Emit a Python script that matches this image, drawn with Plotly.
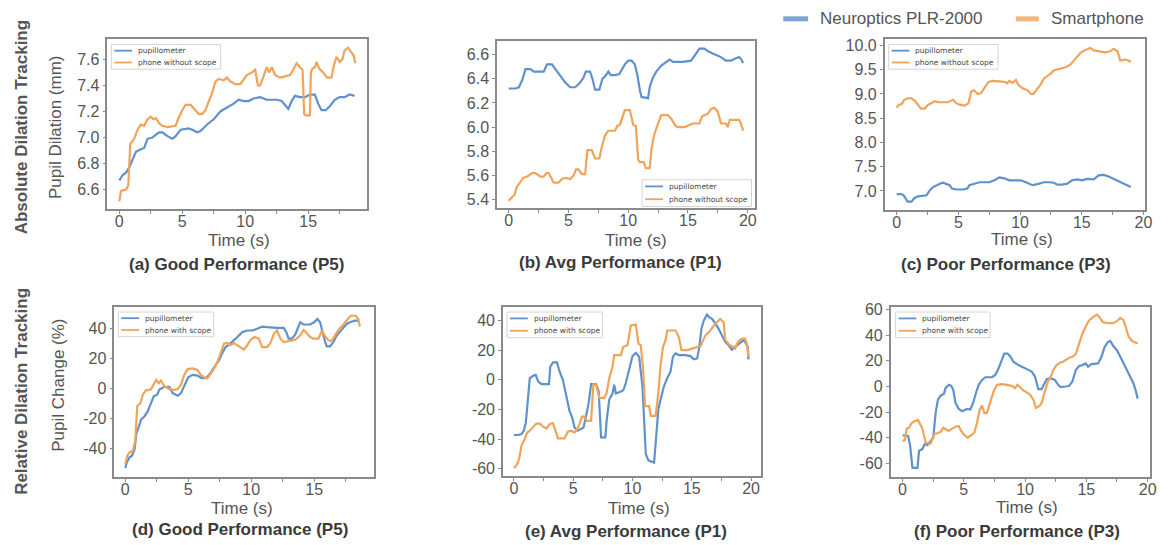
import plotly.graph_objects as go

W, H = 1169, 545

# ---------------- data ----------------
# (a) Good Performance (P5) - absolute
a_pupil_t = [0, 0.26, 0.53, 0.79, 1.05, 1.32, 1.71, 1.97, 2.24, 2.63, 2.89, 3.16, 3.42, 3.82, 4.21, 4.47, 4.87,
             5.53, 5.79, 6.18, 6.45, 6.97, 7.5, 8.03, 8.55, 9.08, 9.47, 9.87, 10.26, 10.66, 11.18, 11.71, 12.5,
             12.89, 13.16, 13.42, 13.68, 13.95, 14.34, 14.74, 15.13, 15.53, 15.79, 16.05, 16.39, 16.71, 17.11,
             17.5, 17.89, 18.29, 18.68]
a_pupil_v = [6.67, 6.71, 6.73, 6.77, 6.83, 6.89, 6.91, 6.92, 6.99, 7.0, 7.02, 7.04, 7.04, 7.01, 6.99, 7.01, 7.06,
             7.07, 7.06, 7.04, 7.05, 7.1, 7.14, 7.2, 7.23, 7.26, 7.29, 7.28, 7.28, 7.3, 7.31, 7.29, 7.29,
             7.28, 7.25, 7.22, 7.28, 7.32, 7.31, 7.31, 7.33, 7.33, 7.26, 7.21, 7.21, 7.24, 7.29,
             7.31, 7.31, 7.33, 7.32]
a_phone_t = [0, 0.13, 0.53, 0.71, 0.87, 1.18, 1.45, 1.71, 1.97, 2.24, 2.5, 2.71, 2.89, 3.16, 3.42, 3.82, 4.47,
             4.66, 5.0, 5.26, 5.66, 5.92, 6.32, 6.58, 6.84, 7.11, 7.37, 7.63, 7.89, 8.29, 8.55, 8.82, 9.21, 9.61,
             9.87, 10.13, 10.53, 10.79, 11.0, 11.18, 11.45, 11.71, 11.89, 12.11, 12.37, 12.76, 13.16, 13.55,
             13.82, 14.08, 14.34, 14.55, 14.68, 14.82, 15.13, 15.21, 15.34, 15.53, 15.66, 15.87, 16.18, 16.5,
             16.84, 17.03, 17.24, 17.5, 17.71, 17.89, 18.16, 18.42, 18.61, 18.74]
a_phone_v = [6.51, 6.59, 6.60, 6.63, 6.95, 6.99, 7.06, 7.10, 7.09, 7.14, 7.16, 7.14, 7.15, 7.11, 7.09, 7.08, 7.09,
             7.14, 7.21, 7.25, 7.25, 7.22, 7.18, 7.18, 7.21, 7.28, 7.34, 7.43, 7.45, 7.44, 7.46, 7.43, 7.41, 7.41,
             7.45, 7.48, 7.50, 7.52, 7.40, 7.40, 7.47, 7.54, 7.50, 7.54, 7.48, 7.46, 7.47, 7.48,
             7.52, 7.57, 7.54, 7.52, 7.18, 7.17, 7.17, 7.50, 7.53, 7.54, 7.58, 7.53, 7.50, 7.46,
             7.46, 7.55, 7.62, 7.58, 7.60, 7.67, 7.69, 7.66, 7.63, 7.57]

# (b) Avg Performance (P1) - absolute
b_pupil_t = [0, 0.58, 0.86, 1.14, 1.41, 1.83, 2.11, 2.94, 3.21, 3.63, 3.91, 4.32, 4.74, 5.15, 5.57, 5.98, 6.26,
             6.45, 6.81, 7.01, 7.23, 7.59, 7.84, 8.06, 8.34, 8.53, 8.89, 9.25, 9.45, 9.72, 10.0, 10.28, 10.55,
             10.75, 10.97, 11.11, 11.66, 11.8, 12.02, 12.35, 12.77, 13.19, 13.46, 13.74, 14.57, 15.26, 15.54,
             15.96, 16.37, 16.65, 17.06, 17.48, 17.76, 18.17, 18.59, 19.0, 19.28, 19.47, 19.61]
b_pupil_v = [6.32, 6.32, 6.33, 6.39, 6.48, 6.48, 6.46, 6.46, 6.52, 6.52, 6.48, 6.43, 6.37, 6.33, 6.33, 6.37, 6.41,
             6.46, 6.46, 6.40, 6.31, 6.31, 6.40, 6.42, 6.46, 6.43, 6.43, 6.44, 6.47, 6.52, 6.55, 6.55, 6.52,
             6.44, 6.31, 6.25, 6.24, 6.33, 6.40, 6.46, 6.51, 6.54, 6.56, 6.54, 6.54, 6.55, 6.59,
             6.65, 6.65, 6.63, 6.61, 6.59, 6.58, 6.55, 6.55, 6.57, 6.58, 6.56, 6.53]
b_phone_t = [0, 0.3, 0.5, 0.66, 0.94, 1.22, 1.55, 1.97, 2.24, 2.66, 2.94, 3.16, 3.35, 3.63, 3.77, 4.18, 4.46,
             4.74, 5.15, 5.43, 5.65, 5.84, 6.12, 6.4, 6.59, 6.95, 7.23, 7.59, 7.78, 8.06, 8.34, 8.89, 9.09,
             9.31, 9.53, 9.72, 10.14, 10.42, 10.64, 10.83, 10.97, 11.3, 11.47, 11.8, 11.94, 12.13, 12.35,
             12.63, 12.77, 13.32, 13.6, 13.96, 14.16, 14.71, 14.99, 15.4, 15.96, 16.18, 16.65, 16.93, 17.2,
             17.48, 17.76, 18.17, 18.31, 18.5, 18.86, 19.28, 19.42, 19.61]
b_phone_v = [5.39, 5.42, 5.44, 5.50, 5.54, 5.58, 5.59, 5.62, 5.62, 5.59, 5.59, 5.62, 5.62, 5.56, 5.54, 5.54, 5.57,
             5.58, 5.57, 5.60, 5.65, 5.65, 5.61, 5.61, 5.81, 5.81, 5.74, 5.74, 5.83, 5.93, 5.97, 5.97, 6.01,
             6.02, 6.09, 6.14, 6.14, 6.02, 6.01, 5.73, 5.71, 5.71, 5.66, 5.66, 5.81, 5.92, 5.99,
             6.06, 6.10, 6.10, 6.07, 6.01, 6.00, 6.00, 6.01, 6.03, 6.03, 6.09, 6.11, 6.15, 6.16,
             6.13, 6.03, 6.03, 6.00, 6.06, 6.06, 6.06, 6.03, 5.97]

# (c) Poor Performance (P3) - absolute
c_pupil_t = [0, 0.27, 0.54, 0.72, 0.89, 1.21, 1.42, 1.74, 2.15, 2.42, 2.68, 2.95, 3.22, 3.49, 3.76, 4.03, 4.29,
             4.48, 4.83, 5.37, 5.72, 5.9, 6.31, 6.71, 7.51, 7.92, 8.32, 8.72, 9.12, 9.53, 10.06, 10.47, 11.0,
             11.41, 11.94, 12.35, 12.75, 13.02, 13.42, 13.82, 14.22, 14.63, 15.03, 15.43, 15.97, 16.37, 16.77,
             17.18, 17.58, 17.98, 18.38, 18.65, 18.97]
c_pupil_v = [6.93, 6.94, 6.92, 6.84, 6.78, 6.78, 6.85, 6.89, 6.91, 6.91, 7.01, 7.08, 7.11, 7.15, 7.17, 7.14, 7.12,
             7.05, 7.03, 7.03, 7.05, 7.12, 7.15, 7.18, 7.18, 7.22, 7.28, 7.26, 7.22, 7.22, 7.22, 7.18, 7.12,
             7.14, 7.18, 7.18, 7.17, 7.13, 7.13, 7.15, 7.22, 7.24, 7.22, 7.25, 7.24, 7.32, 7.33,
             7.30, 7.25, 7.20, 7.15, 7.11, 7.08]
c_phone_t = [0, 0.19, 0.4, 0.62, 0.89, 1.21, 1.48, 1.74, 1.96, 2.28, 2.55, 2.82, 3.09, 3.41, 3.62, 4.16, 4.56,
             4.83, 5.1, 5.5, 5.82, 6.04, 6.25, 6.58, 6.84, 7.11, 7.43, 7.78, 8.32, 8.72, 8.94, 9.12, 9.39,
             9.66, 9.85, 10.2, 10.6, 10.87, 11.08, 11.41, 11.67, 11.94, 12.21, 12.48, 12.75, 13.15, 13.69,
             14.09, 14.49, 14.9, 15.3, 15.7, 15.97, 16.51, 16.91, 17.31, 17.58, 17.9, 18.12, 18.52, 18.79, 18.97]
c_phone_v = [8.72, 8.78, 8.79, 8.88, 8.91, 8.91, 8.86, 8.76, 8.70, 8.70, 8.78, 8.81, 8.85, 8.83, 8.83, 8.83, 8.88,
             8.81, 8.78, 8.76, 8.81, 9.05, 9.08, 9.00, 9.02, 9.13, 9.25, 9.27, 9.25, 9.25, 9.22, 9.27, 9.23,
             9.29, 9.19, 9.12, 9.08, 9.00, 9.00, 9.10, 9.20, 9.32, 9.37, 9.42, 9.49, 9.52, 9.55,
             9.61, 9.74, 9.85, 9.91, 9.95, 9.90, 9.88, 9.86, 9.88, 9.93, 9.88, 9.69, 9.71, 9.69, 9.66]

# (d) Good Performance (P5) - relative
d_pupil_t = [0, 0.13, 0.34, 0.53, 0.74, 0.87, 1.05, 1.26, 1.53, 1.79, 2.05, 2.26, 2.53, 2.71, 3.11, 3.5, 3.76,
             4.16, 4.42, 4.82, 5.0, 5.34, 5.74, 6.05, 6.39, 6.66, 6.92, 7.18, 7.45, 7.71, 7.97, 8.24, 8.5,
             8.76, 9.03, 9.29, 9.68, 10.08, 10.47, 10.87, 11.26, 11.66, 12.05, 12.58, 12.79, 12.97, 13.24,
             13.5, 13.76, 13.89, 14.16, 14.68, 15.0, 15.26, 15.47, 15.68, 15.87, 16.0, 16.26, 16.53, 16.79,
             17.18, 17.58, 17.84, 18.24, 18.58]
d_pupil_v = [-53.3, -49.5, -46.2, -45.1, -40.7, -30.7, -26.3, -20.8, -18.6, -15.2, -9.7, -5.3, -4.2, -0.7, 1.1,
             1.1, -3.1, -4.9, -3.1, 3.5, 7.5, 9.1, 8.6, 6.9, 6.9, 9.1, 12.4, 15.7, 19.0, 23.9, 27.8, 29.4, 31.2,
             33.4, 35.6, 37.8, 38.9, 38.9, 40.0, 41.5, 41.1, 40.7, 40.7, 40.7, 37.8, 33.4, 33.4,
             36.2, 41.1, 44.4, 42.9, 42.9, 44.4, 46.6, 44.4, 36.7, 31.2, 28.3, 28.3, 31.2, 35.6,
             39.3, 43.3, 44.4, 45.5, 45.5]
d_phone_t = [0, 0.16, 0.34, 0.61, 0.79, 0.95, 1.21, 1.39, 1.66, 1.79, 2.05, 2.26, 2.45, 2.66, 2.84, 3.11, 3.5,
             3.89, 4.16, 4.42, 4.68, 4.95, 5.34, 5.74, 6.0, 6.26, 6.53, 6.79, 7.05, 7.32, 7.58, 7.84, 8.11,
             8.37, 8.63, 8.89, 9.16, 9.42, 9.63, 9.95, 10.26, 10.61, 10.87, 11.26, 11.53, 11.79, 12.05, 12.32,
             12.58, 12.97, 13.5, 13.89, 14.16, 14.42, 14.68, 14.95, 15.34, 15.61, 15.87, 16.13, 16.39, 16.66,
             16.92, 17.32, 17.63, 17.89, 18.32, 18.5, 18.63]
d_phone_v = [-50.6, -45.1, -42.9, -41.8, -35.1, -11.9, -9.7, -4.2, -1.0, -1.3, -0.4, 3.1, 5.7, 3.5, 5.3, 1.3,
             -0.4, -0.9, -0.4, 2.4, 9.1, 13.0, 13.5, 12.4, 9.1, 7.5, 6.9, 10.2, 13.5, 17.9, 24.5, 30.1, 30.5,
             29.0, 30.5, 29.0, 27.8, 26.1, 28.3, 32.7, 34.5, 33.4, 27.8, 27.8, 30.5, 36.7, 38.9, 33.4,
             31.2, 31.8, 32.7, 35.6, 39.3, 37.1, 34.5, 33.4, 33.4, 38.9, 34.9, 32.3, 31.8, 35.6,
             39.3, 42.9, 46.0, 48.8, 48.8, 46.6, 41.5]

# (e) Avg Performance (P1) - relative
e_pupil_t = [0, 0.36, 0.64, 0.84, 1.01, 1.2, 1.34, 1.62, 1.84, 2.04, 2.32, 2.74, 2.96, 3.07, 3.3, 3.63, 3.85,
             4.13, 4.41, 4.69, 4.92, 5.11, 5.39, 5.67, 5.87, 6.09, 6.31, 6.51, 6.93, 7.15, 7.35, 7.71, 7.82,
             8.04, 8.32, 8.46, 8.6, 8.88, 9.22, 9.44, 9.72, 10.0, 10.28, 10.56, 10.84, 10.98, 11.12, 11.34,
             11.82, 11.96, 12.18, 12.37, 12.65, 12.93, 13.21, 13.41, 13.63, 13.91, 14.47, 14.89, 15.17, 15.45,
             15.64, 15.81, 16.01, 16.28, 16.48, 16.7, 16.98, 17.26, 17.54, 17.82, 18.1, 18.38, 18.66, 18.94,
             19.36, 19.5, 19.72, 19.78]
e_pupil_v = [-37.3, -37.3, -36.7, -34.4, -28.9, -11.1, 1.1, 2.7, 3.3, -1.1, -2.9, -2.9, -2.9, 8.9, 11.8, 11.8,
             5.6, 0.0, -10.0, -21.1, -25.6, -32.2, -34.4, -33.3, -32.2, -24.4, -15.6, -2.9, -2.9, -7.8, -38.9,
             -38.9, -27.8, -13.3, -9.3, -3.3, -9.3, -8.4, -7.1, -2.2, 6.7, 16.0, 18.2, 15.6, -4.4, -26.7,
             -50.0, -54.4, -56.0, -42.2, -20.0, -13.3, -4.4, 1.1, 5.6, 15.6, 17.8, 16.7, 16.7, 16.0, 13.8,
             14.4, 22.2, 34.4, 40.0, 44.0, 42.2, 41.1, 38.2, 34.4, 30.0, 25.6, 23.3, 20.4, 22.2, 23.8,
             26.7, 25.6, 22.2, 13.8]
e_phone_t = [0, 0.22, 0.45, 0.64, 0.92, 1.12, 1.34, 1.62, 1.9, 2.18, 2.46, 2.74, 3.02, 3.3, 3.52, 3.72, 4.27,
             4.55, 4.83, 5.11, 5.31, 5.53, 5.75, 5.95, 6.15, 6.51, 6.7, 6.93, 7.21, 7.63, 7.82, 8.04, 8.32,
             8.46, 9.02, 9.22, 9.58, 9.86, 10.28, 10.5, 10.7, 10.89, 11.06, 11.4, 11.54, 11.96, 12.18, 12.37,
             12.57, 12.79, 12.93, 13.63, 13.91, 14.13, 14.61, 15.03, 15.45, 15.73, 16.15, 16.56, 16.98, 17.4,
             17.68, 17.82, 18.1, 18.38, 18.66, 18.88, 19.22, 19.5, 19.64, 19.78]
e_phone_v = [-59.6, -57.8, -53.3, -44.4, -40.0, -35.6, -34.4, -32.2, -29.6, -29.6, -31.6, -32.9, -30.0, -29.3,
             -34.4, -39.6, -39.6, -35.1, -34.4, -35.6, -33.8, -30.0, -24.9, -24.9, -27.8, -27.8, -3.3, -3.3,
             -12.2, -12.2, -8.9, 1.1, 8.9, 16.7, 16.7, 22.2, 23.3, 36.7, 37.3, 24.4, 23.3, 7.8, -17.8, -17.8,
             -24.4, -24.4, -8.9, 10.0, 22.2, 26.7, 33.3, 33.3, 28.9, 20.0, 20.0, 21.1, 22.2, 22.7, 30.0,
             33.3, 37.8, 41.1, 38.9, 27.1, 24.0, 22.7, 21.1, 25.6, 27.8, 27.8, 24.4, 15.6]

# (f) Poor Performance (P3) - relative
f_pupil_t = [0, 0.27, 0.46, 0.62, 0.73, 0.81, 1.22, 1.35, 1.62, 1.81, 2.03, 2.24, 2.51, 2.7, 2.89, 3.11, 3.38,
             3.51, 3.78, 3.97, 4.14, 4.32, 4.59, 4.86, 5.27, 5.54, 5.76, 6.03, 6.22, 6.49, 6.76, 7.3, 7.57,
             7.84, 8.11, 8.3, 8.57, 8.78, 9.05, 9.46, 9.86, 10.14, 10.54, 10.81, 11.08, 11.35, 11.54, 11.76,
             12.08, 12.43, 12.7, 12.89, 13.32, 13.59, 13.86, 14.14, 14.41, 14.68, 14.95, 15.14, 15.41, 15.68,
             15.95, 16.22, 16.49, 16.76, 16.95, 17.16, 17.49, 17.7, 18.03, 18.3, 18.57, 18.84, 19.05, 19.19]
f_pupil_v = [-38.1, -38.1, -38.6, -46.3, -59.2, -63.6, -63.6, -50.2, -48.9, -45.0, -45.8, -43.2, -39.9, -20.6,
             -10.3, -7.2, -5.7, -1.3, 1.3, 0.5, -2.6, -12.9, -17.5, -19.3, -17.5, -18.0, -12.9, -3.9, 1.3, 5.1,
             7.2, 7.2, 9.0, 14.2, 21.9, 25.7, 25.7, 23.7, 19.3, 16.7, 14.9, 13.4, 11.6, 7.7, -2.1, -2.1, 1.3,
             5.7, 6.4, 5.1, 1.3, -0.5, 0.0, 0.5, 3.9, 12.9, 16.0, 16.7, 18.0, 15.4, 17.5, 17.5, 18.0, 22.7,
             30.9, 34.7, 35.5, 32.2, 28.3, 24.5, 18.0, 12.9, 7.7, 2.6, -3.9, -9.5]
f_phone_t = [0, 0.19, 0.35, 0.54, 0.73, 1.0, 1.27, 1.43, 1.62, 1.76, 1.89, 2.08, 2.3, 2.43, 2.57, 2.84, 3.11,
             3.32, 3.51, 3.78, 4.05, 4.32, 4.59, 4.78, 5.05, 5.32, 5.59, 5.86, 6.08, 6.3, 6.49, 6.68, 6.89,
             7.16, 7.43, 7.7, 8.11, 8.51, 8.92, 9.19, 9.38, 9.54, 9.86, 10.14, 10.41, 10.68, 10.89, 11.16,
             11.35, 11.49, 11.7, 11.89, 12.08, 12.3, 12.57, 12.84, 13.11, 13.38, 13.65, 13.86, 14.14, 14.41,
             14.68, 14.95, 15.22, 15.54, 15.86, 16.08, 16.35, 16.76, 17.16, 17.49, 17.76, 18.03, 18.24, 18.46,
             18.73, 19.0, 19.19]
f_phone_v = [-42.5, -41.7, -32.9, -32.2, -28.8, -27.0, -26.3, -29.6, -32.9, -38.6, -43.8, -44.5, -44.5, -41.2,
             -37.3, -36.6, -35.5, -32.2, -33.5, -34.7, -32.9, -31.4, -30.9, -34.7, -38.1, -39.9, -38.1, -36.0,
             -28.3, -18.0, -14.9, -20.6, -20.6, -12.9, -3.9, 1.3, 1.8, 1.3, 0.5, -1.3, 1.3, 0.0, -3.1, -4.6,
             -6.4, -10.3, -16.7, -15.4, -12.9, -7.7, -1.3, 4.6, 7.2, 12.9, 16.7, 18.5, 19.3, 21.1, 22.7, 23.2,
             25.2, 33.5, 41.2, 46.8, 51.5, 54.1, 56.1, 54.1, 50.2, 49.4, 49.4, 51.0, 53.5, 52.0, 46.3, 38.6,
             35.5, 34.0, 33.5]

# tick labels
x_ticks = [0, 5, 10, 15, 20]
a_yticks = [6.6, 6.8, 7.0, 7.2, 7.4, 7.6]
b_yticks = [5.4, 5.6, 5.8, 6.0, 6.2, 6.4, 6.6]
c_yticks = [7.0, 7.5, 8.0, 8.5, 9.0, 9.5, 10.0]
d_yticks = [-40, -20, 0, 20, 40]
e_yticks = [-60, -40, -20, 0, 20, 40]
f_yticks = [-60, -40, -20, 0, 20, 40, 60]

subtitles = ["(a) Good Performance (P5)", "(b) Avg Performance (P1)", "(c) Poor Performance (P3)",
             "(d) Good Performance (P5)", "(e) Avg Performance (P1)", "(f) Poor Performance (P3)"]
series_names = ["pupillometer", "phone without scope", "phone with scope"]
top_legend = ["Neuroptics PLR-2000", "Smartphone"]
row_labels = ["Absolute Dilation Tracking", "Relative Dilation Tracking"]

# ---------------- styling / layout ----------------
BLUE = "#5f92cc"
ORANGE = "#f0a45a"
TICKFONT = dict(family="Liberation Sans, Arial, sans-serif", size=16, color="#555555")


def px(x):
    return x / W


def py(y):
    return 1 - y / H


panels = [
    dict(box=(108, 369, 33, 206), xr=[-0.95, 19.65], yr=[6.448, 7.76], yt=a_yticks, fmt="{:.1f}",
         data=(a_pupil_t, a_pupil_v, a_phone_t, a_phone_v), leg=(112, 222, 39, 64), phone=series_names[1],
         title_xy=(240, 238), sub_xy=(238, 262)),
    dict(box=(500, 760, 35, 205), xr=[-0.97, 20.64], yr=[5.327, 6.717], yt=b_yticks, fmt="{:.1f}",
         data=(b_pupil_t, b_pupil_v, b_phone_t, b_phone_v), leg=(646, 756, 176, 203), phone=series_names[1],
         title_xy=(640, 238), sub_xy=(624, 260)),
    dict(box=(890, 1152, 33, 207), xr=[-0.97, 20.13], yr=[6.6, 10.143], yt=c_yticks, fmt="{:.1f}",
         data=(c_pupil_t, c_pupil_v, c_phone_t, c_phone_v), leg=(894, 1004, 39, 64), phone=series_names[1],
         title_xy=(1028, 237), sub_xy=(1012, 262)),
    dict(box=(115, 376, 305, 477), xr=[-0.87, 19.73], yr=[-59.3, 54.6], yt=d_yticks, fmt="{:d}",
         data=(d_pupil_t, d_pupil_v, d_phone_t, d_phone_v), leg=(119, 215, 310, 335), phone=series_names[2],
         title_xy=(243, 509), sub_xy=(241, 530)),
    dict(box=(506, 766, 305, 476), xr=[-0.92, 20.87], yr=[-64.9, 49.1], yt=e_yticks, fmt="{:d}",
         data=(e_pupil_t, e_pupil_v, e_phone_t, e_phone_v), leg=(510, 606, 310, 336), phone=series_names[2],
         title_xy=(643, 509), sub_xy=(630, 532)),
    dict(box=(896, 1157, 305, 477), xr=[-0.97, 20.2], yr=[-70.6, 62.0], yt=f_yticks, fmt="{:d}",
         data=(f_pupil_t, f_pupil_v, f_phone_t, f_phone_v), leg=(901, 996, 310, 336), phone=series_names[2],
         title_xy=(1033, 508), sub_xy=(1023, 532)),
]

fig = go.Figure()
layout = dict(width=W, height=H, margin=dict(l=0, r=0, t=0, b=0), paper_bgcolor="white",
              plot_bgcolor="white", showlegend=False)
shapes = []
annotations = []

for i, p in enumerate(panels):
    k = "" if i == 0 else str(i + 1)
    x0, x1, y0, y1 = p["box"]
    pt, pv, ot, ov = p["data"]
    fig.add_trace(go.Scatter(x=pt, y=pv, mode="lines", line=dict(color=BLUE, width=2.2),
                             name=series_names[0], xaxis="x" + k, yaxis="y" + k))
    fig.add_trace(go.Scatter(x=ot, y=ov, mode="lines", line=dict(color=ORANGE, width=2.2),
                             name=p["phone"], xaxis="x" + k, yaxis="y" + k))
    axcommon = dict(showline=True, mirror=True, linecolor="#8a8a8a", linewidth=1.5, showgrid=False,
                    zeroline=False, ticks="outside", ticklen=3, tickcolor="#8a8a8a", tickfont=TICKFONT)
    layout["xaxis" + k] = dict(domain=[px(x0), px(x1)], range=p["xr"], anchor="y" + k,
                               tickvals=x_ticks, ticktext=[str(v) for v in x_ticks], ticklabelstandoff=-6,
                               minor=dict(tick0=0, dtick=2.5, ticks="outside", ticklen=3, tickcolor="#8a8a8a"),
                               **axcommon)
    layout["yaxis" + k] = dict(domain=[py(y1), py(y0)], range=p["yr"], anchor="x" + k,
                               tickvals=p["yt"],
                               ticktext=[(p["fmt"].format(int(v)) if p["fmt"] == "{:d}" else p["fmt"].format(v))
                                         for v in p["yt"]],
                               **axcommon)
    tx, ty = p["title_xy"]
    annotations.append(dict(text="Time (s)", x=px(tx), y=py(ty), xref="paper", yref="paper",
                            showarrow=False, xanchor="center", yanchor="middle",
                            font=dict(family="Liberation Sans, Arial", size=17, color="#555555")))
    sx, sy = p["sub_xy"]
    annotations.append(dict(text="<b>" + subtitles[i] + "</b>", x=px(sx), y=py(sy), xref="paper",
                            yref="paper", showarrow=False, xanchor="center", yanchor="middle",
                            font=dict(family="Liberation Sans, Arial", size=17, color="#3a3a3a")))
    lx0, lx1, ly0, ly1 = p["leg"]
    shapes.append(dict(type="rect", xref="paper", yref="paper", x0=px(lx0), x1=px(lx1), y0=py(ly1),
                       y1=py(ly0), line=dict(color="#d4d4d4", width=1), fillcolor="rgba(255,255,255,0.85)",
                       layer="above"))
    rows = [(ly0 + (ly1 - ly0) * 0.25, BLUE, series_names[0]),
            (ly0 + (ly1 - ly0) * 0.73, ORANGE, p["phone"])]
    for yy, col, nm in rows:
        shapes.append(dict(type="line", xref="paper", yref="paper", x0=px(lx0 + 3), x1=px(lx0 + 21),
                           y0=py(yy), y1=py(yy), line=dict(color=col, width=1.8), layer="above"))
        annotations.append(dict(text=nm, x=px(lx0 + 25), y=py(yy), xref="paper", yref="paper",
                                showarrow=False, xanchor="left", yanchor="middle",
                                font=dict(family="DejaVu Sans", size=7.5, color="#444444")))

annotations.append(dict(text="Pupil Dilation (mm)", x=px(56), y=py(123), xref="paper", yref="paper",
                        showarrow=False, textangle=-90, xanchor="center", yanchor="middle",
                        font=dict(family="Liberation Sans, Arial", size=17, color="#555555")))
annotations.append(dict(text="Pupil Change (%)", x=px(58), y=py(384), xref="paper", yref="paper",
                        showarrow=False, textangle=-90, xanchor="center", yanchor="middle",
                        font=dict(family="Liberation Sans, Arial", size=17, color="#555555")))
for lbl, yc in zip(row_labels, [123, 390]):
    annotations.append(dict(text="<b>" + lbl + "</b>", x=px(22), y=py(yc), xref="paper", yref="paper",
                            showarrow=False, textangle=-90, xanchor="center", yanchor="middle",
                            font=dict(family="Liberation Sans, Arial", size=17, color="#555555")))

for (lx0, lx1, tx), col, nm in zip([(788, 813, 823), (1022, 1045, 1055)], ["#7ea4d2", "#f2b57a"], top_legend):
    shapes.append(dict(type="line", xref="paper", yref="paper", x0=px(lx0), x1=px(lx1), y0=py(13), y1=py(13),
                       line=dict(color=col, width=5)))
    annotations.append(dict(text=nm, x=px(tx), y=py(13), xref="paper", yref="paper", showarrow=False,
                            xanchor="left", yanchor="middle",
                            font=dict(family="Liberation Sans, Arial", size=17, color="#555555")))

layout["shapes"] = shapes
layout["annotations"] = annotations
fig.update_layout(**layout)
fig.write_html("out.html", config={"displayModeBar": False},
               post_script="document.body.style.margin='0';document.body.style.padding='0';"
                           "document.body.style.overflow='hidden';")
